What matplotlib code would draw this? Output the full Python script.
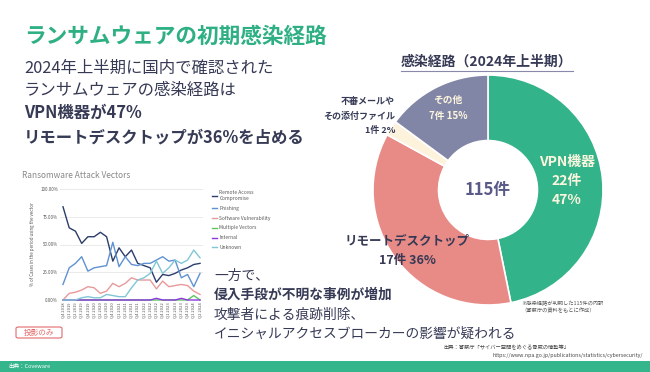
import matplotlib
matplotlib.use("Agg")
import matplotlib.pyplot as plt
from matplotlib.patches import Rectangle, FancyBboxPatch

plt.rcParams['font.family'] = ['Noto Sans CJK JP', 'DejaVu Sans']

W, H = 650, 372

# --- data: Coveware line chart ---
quarters = ["Q4 2018",
            "Q1 2019", "Q2 2019", "Q3 2019", "Q4 2019",
            "Q1 2020", "Q2 2020", "Q3 2020", "Q4 2020",
            "Q1 2021", "Q2 2021", "Q3 2021", "Q4 2021",
            "Q1 2022", "Q2 2022", "Q3 2022", "Q4 2022",
            "Q1 2023", "Q2 2023", "Q3 2023", "Q4 2023",
            "Q1 2024", "Q2 2024"]
remote_access = [84, 65, 62, 51, 57, 57, 61, 57, 35, 47, 39, 45, 33, 31, 29, 16, 23, 22, 24, 27, 29, 32, 33]
phishing = [14, 29, 33, 39, 26, 29, 30, 31, 52, 30, 39, 32, 31, 33, 33, 36, 39, 35, 36, 20, 23, 12, 24]
software_vuln = [0, 6, 7, 9, 12, 11, 6, 8, 15, 12, 15, 20, 18, 18, 18, 10, 17, 12, 13, 14, 13, 8, 5]
multiple_vectors = [0, 0, 0, 0, 0, 0, 0, 0, 0, 0, 0, 0, 0, 0, 0, 0, 0, 0, 0, 0, 0, 4, 0]
internal = [0, 0, 0, 0, 0, 0, 0, 0, 0, 0, 0, 0, 0, 0, 0, 1.5, 0, 0, 0, 1.5, 0, 0, 0]
unknown = [0, 0, 0, 2, 3, 2, 2, 5, 4, 3, 3, 11, 18, 20, 24, 35, 24, 29, 36, 33, 36, 45, 38]

series_names = ["Remote Access\nCompromise", "Phishing", "Software Vulnerability",
                "Multiple Vectors", "Internal", "Unknown"]
series_colors = ["#2b3d6b", "#5f92d2", "#e8999a", "#5cc660", "#8c35e0", "#80c6d6"]

# --- data: donut ---
route_labels = ["VPN機器", "リモートデスクトップ", "不審メールや\nその添付ファイル", "その他"]
route_counts = [22, 17, 1, 7]
route_pcts = [47, 36, 2, 15]
route_colors = ["#33b38a", "#e88a86", "#fdf3dd", "#8286a6"]
total_cases = 115

GREEN = "#2fb083"
NAVY = "#363a55"


def fx(x):
    return x / W


def fy(y):
    return 1 - y / H


fig = plt.figure(figsize=(6.5, 3.72), dpi=100)
fig.patch.set_facecolor("white")

# タイトルとリード文
fig.text(fx(24), fy(36), "ランサムウェアの初期感染経路", color=GREEN, fontsize=15.6,
         fontweight="bold", va="center")
fig.text(fx(24), fy(68), "2024年上半期に国内で確認された", color=NAVY, fontsize=11.8, va="center")
fig.text(fx(24), fy(91), "ランサムウェアの感染経路は", color=NAVY, fontsize=11.8, va="center")
fig.text(fx(24), fy(113), "VPN機器が47%", color=NAVY, fontsize=11.8, fontweight="bold", va="center")
fig.text(fx(24), fy(137), "リモートデスクトップが36%を占める", color=NAVY, fontsize=11.8,
         fontweight="bold", va="center")

# --- 折れ線グラフ (Coveware) ---
ax = fig.add_axes([fx(60), fy(300), fx(143), (300 - 189) / H])
x = list(range(len(quarters)))
all_series = [remote_access, phishing, software_vuln, multiple_vectors, internal, unknown]
for vals, name, col in zip(all_series, series_names, series_colors):
    ax.plot(x, vals, color=col, lw=1.0, label=name, clip_on=False)
ax.set_xlim(-0.48, len(quarters) - 0.52)
ax.set_ylim(0, 100)
ax.set_yticks([0, 25, 50, 75, 100])
ax.set_yticklabels(["0.00%", "25.00%", "50.00%", "75.00%", "100.00%"], fontsize=3.2, color="#555555")
ax.set_xticks(x)
ax.set_xticklabels(quarters, rotation=90, fontsize=3.0, color="#555555")
ax.tick_params(length=0, pad=1.5)
ax.grid(axis="y", color="#e6e6e6", lw=0.6)
ax.set_axisbelow(True)
for s in ax.spines.values():
    s.set_visible(False)
ax.set_ylabel("% of Cases in the period using the vector", fontsize=3.2, color="#555555", labelpad=4)
ax.legend(loc="upper left", bbox_to_anchor=(1.03, 1.03), frameon=False, fontsize=3.5,
          handlelength=1.0, labelspacing=1.0, handletextpad=0.6, labelcolor="#555555")
fig.text(fx(22), fy(175), "Ransomware Attack Vectors", fontsize=6, color="#888888", va="center")

# 投影のみ
fig.patches.append(FancyBboxPatch((fx(16), fy(338)), fx(46), (338 - 327) / H,
                                  boxstyle="round,pad=0,rounding_size=0.004",
                                  transform=fig.transFigure, fc="white", ec="#e46a6a", lw=0.8))
fig.text(fx(39), fy(332.5), "投影のみ", fontsize=5.5, color="#e46a6a", ha="center", va="center")

# 中央のテキスト
fig.text(fx(214), fy(276), "一方で、", color=NAVY, fontsize=9.9, va="center")
fig.text(fx(214), fy(295), "侵入手段が不明な事例が増加", color=NAVY, fontsize=9.9,
         fontweight="bold", va="center")
fig.text(fx(214), fy(315), "攻撃者による痕跡削除、", color=NAVY, fontsize=9.9, va="center")
fig.text(fx(214), fy(334), "イニシャルアクセスブローカーの影響が疑われる", color=NAVY, fontsize=9.9, va="center")

# --- ドーナツ ---
axp = fig.add_axes([fx(373), fy(305), fx(230), 230 / H])
axp.pie(route_counts, colors=route_colors, startangle=90, counterclock=False, radius=1.0,
        wedgeprops=dict(width=0.57, edgecolor="white", linewidth=1.2))
axp.set_xlim(-1, 1)
axp.set_ylim(-1, 1)
axp.set_aspect("equal")
axp.axis("off")
axp.text(0, 0, f"{total_cases}件", ha="center", va="center", fontsize=12,
         fontweight="bold", color="#5a5a88")

fig.text(fx(487), fy(62), "感染経路（2024年上半期）", color=NAVY, fontsize=10,
         fontweight="bold", ha="center", va="center")
fig.lines.append(plt.Line2D([fx(401), fx(573)], [fy(71), fy(71)], color="#8888aa", lw=0.8,
                            transform=fig.transFigure))

CREAM = "#fdf6df"
fig.text(fx(567), fy(181), f"{route_labels[0]}\n{route_counts[0]}件\n{route_pcts[0]}%",
         color=CREAM, fontsize=10, fontweight="bold", ha="center", va="center", linespacing=1.45)
fig.text(fx(407), fy(251), f"{route_labels[1]}\n{route_counts[1]}件 {route_pcts[1]}%",
         color=NAVY, fontsize=9, fontweight="bold", ha="center", va="center", linespacing=1.6)
fig.text(fx(395), fy(116), f"{route_labels[2]}\n{route_counts[2]}件 {route_pcts[2]}%",
         color=NAVY, fontsize=6.5, fontweight="bold", ha="right", va="center", linespacing=1.75)
fig.text(fx(448), fy(108), f"{route_labels[3]}\n{route_counts[3]}件 {route_pcts[3]}%",
         color=CREAM, fontsize=7, fontweight="bold", ha="center", va="center", linespacing=1.7)

fig.text(fx(521), fy(307.5), "※感染経路が判明した115件の内訳\n（警察庁の資料をもとに作成）",
         color="#555555", fontsize=3.8, va="center", linespacing=1.4)

fig.text(fx(443), fy(348), "出典：警察庁「サイバー空間をめぐる脅威の情勢等」",
         color="#444444", fontsize=3.8, va="center")
fig.text(fx(643), fy(355.5), "https://www.npa.go.jp/publications/statistics/cybersecurity/",
         color="#444444", fontsize=3.8, va="center", ha="right")

# フッター
fig.patches.append(Rectangle((0, 0), 1, (H - 361) / H, transform=fig.transFigure,
                             fc="#35b58b", ec="none"))
fig.text(fx(8), fy(366), "出典：Coveware", color="white", fontsize=4, va="center")

fig.savefig("out.png", dpi=100, facecolor="white")
